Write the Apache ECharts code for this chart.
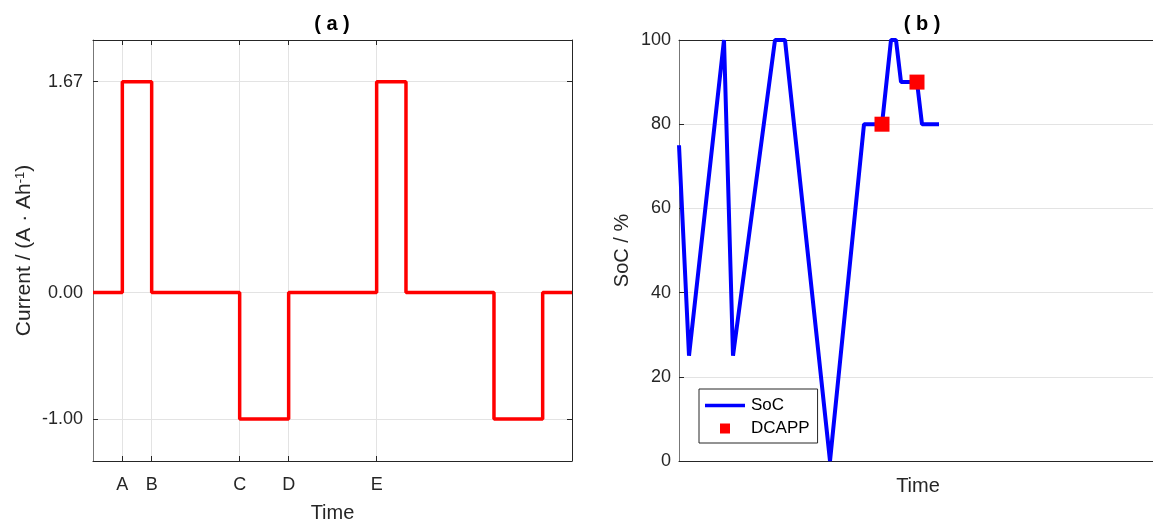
<!DOCTYPE html>
<html>
<head>
<meta charset="utf-8">
<script src="https://cdn.jsdelivr.net/npm/echarts@6/dist/echarts.min.js"></script>
<style>
html,body{margin:0;padding:0;background:#fff;}
#main{width:1153px;height:519px;}
</style>
</head>
<body>
<div id="main"></div>
<script>
// panel (a): current steps, x in time units
var stepTimes = [0, 1, 2, 5, 6.67, 9.67, 10.67, 13.67, 15.33, 16.33];
var stepCurrent = [0, 1.67, 0, -1, 0, 1.67, 0, -1, 0, 0];
var tickPos = [1, 2, 5, 6.67, 9.67];
var tickNames = ['A', 'B', 'C', 'D', 'E'];
var currentTicks = [-1, 0, 1.67];

// panel (b): SoC trace and DCAPP points
var socTime = [0, 10, 45, 54, 96, 106, 151, 185, 203, 212, 217, 222, 238, 243, 260];
var socVal = [75, 25, 100, 25, 100, 100, 0, 80, 80, 100, 100, 90, 90, 80, 80];
var dcTime = [203, 238];
var dcVal = [80, 90];

var FONT = 'Liberation Sans';
var DARK = '#262626';

function zip(a, b){
	var out = [];
	for (var i = 0; i < a.length; i++) out.push([a[i], b[i]]);
	return out;
}

var labelMap = {};
tickPos.forEach(function(p, i){ labelMap[p] = tickNames[i]; });

var option = {
	animation: false,
	backgroundColor: '#fff',
	textStyle: { fontFamily: FONT },
	title: [
		{ text: '( a )', left: 327, top: 9, textAlign: 'center',
		  textStyle: { fontFamily: FONT, fontSize: 20, fontWeight: 'bold', color: '#000' } },
		{ text: '( b )', left: 917, top: 9, textAlign: 'center',
		  textStyle: { fontFamily: FONT, fontSize: 20, fontWeight: 'bold', color: '#000' } }
	],
	legend: {
		left: 699, top: 389,
		orient: 'vertical',
		itemWidth: 40, itemHeight: 10, itemGap: 6,
		padding: [8, 8, 6, 6],
		borderColor: DARK, borderWidth: 1,
		backgroundColor: '#fff',
		symbolKeepAspect: true,
		textStyle: { fontFamily: FONT, fontSize: 17, color: '#000', padding: [0, 0, 0, 1] },
		data: [
			{ name: 'SoC', icon: 'path://M0,0L40,0L40,3.5L0,3.5Z' },
			{ name: 'DCAPP', icon: 'path://M0,0L1,0L1,1L0,1Z' }
		]
	},
	grid: [
		{ left: 93, top: 40, width: 479, height: 421, outerBoundsMode: 'none' },
		{ left: 679, top: 40, width: 478, height: 421, outerBoundsMode: 'none' }
	],
	xAxis: [
		{ gridIndex: 0, type: 'value', min: 0, max: 16.33, position: 'bottom',
		  name: 'Time', nameLocation: 'middle', nameGap: 42,
		  nameTextStyle: { fontFamily: FONT, fontSize: 20, color: DARK },
		  axisLine: { onZero: false, lineStyle: { color: DARK } },
		  axisTick: { inside: true, length: 5, customValues: tickPos, lineStyle: { color: DARK } },
		  axisLabel: { customValues: tickPos, margin: 15, fontSize: 18, color: DARK,
		    formatter: function(v){ return labelMap[v] || ''; } },
		  splitLine: { show: true, lineStyle: { color: '#e3e3e3' } } },
		{ gridIndex: 0, type: 'value', min: 0, max: 16.33, position: 'top',
		  axisLine: { onZero: false, lineStyle: { color: DARK } },
		  axisTick: { inside: true, length: 5, customValues: tickPos, lineStyle: { color: DARK } },
		  axisLabel: { show: false }, splitLine: { show: false } },
		{ gridIndex: 1, type: 'value', min: 0, max: 478, position: 'bottom',
		  name: 'Time', nameLocation: 'middle', nameGap: 15,
		  nameTextStyle: { fontFamily: FONT, fontSize: 20, color: DARK },
		  axisLine: { onZero: false, lineStyle: { color: DARK } },
		  axisTick: { show: false }, axisLabel: { show: false }, splitLine: { show: false } },
		{ gridIndex: 1, type: 'value', min: 0, max: 478, position: 'top',
		  axisLine: { onZero: false, lineStyle: { color: DARK } },
		  axisTick: { show: false }, axisLabel: { show: false }, splitLine: { show: false } }
	],
	yAxis: [
		{ gridIndex: 0, type: 'value', min: -1.3333, max: 2, position: 'left',
		  name: 'Current / (A · Ah{sup|-1})', nameLocation: 'middle', nameGap: 58, nameRotate: 90,
		  nameTextStyle: { fontFamily: FONT, fontSize: 21, color: DARK,
		    rich: { sup: { fontFamily: FONT, fontSize: 13, color: DARK, verticalAlign: 'top', padding: [0, 0, 8, 0] } } },
		  axisLine: { onZero: false, lineStyle: { color: '#777' } },
		  axisTick: { inside: true, length: 5, customValues: currentTicks, lineStyle: { color: DARK } },
		  axisLabel: { customValues: currentTicks, margin: 10, fontSize: 18, color: DARK,
		    formatter: function(v){ return v.toFixed(2); } },
		  splitLine: { show: true, lineStyle: { color: '#e3e3e3' } } },
		{ gridIndex: 0, type: 'value', min: -1.3333, max: 2, position: 'right',
		  axisLine: { show: true, onZero: false, lineStyle: { color: DARK } },
		  axisTick: { inside: true, length: 5, customValues: currentTicks, lineStyle: { color: DARK } },
		  axisLabel: { show: false }, splitLine: { show: false } },
		{ gridIndex: 1, type: 'value', min: 0, max: 100, interval: 20, position: 'left',
		  name: 'SoC / %', nameLocation: 'middle', nameGap: 47,
		  nameTextStyle: { fontFamily: FONT, fontSize: 20, color: DARK },
		  axisLine: { show: true, onZero: false, lineStyle: { color: '#777' } },
		  axisTick: { show: true, inside: true, length: 5, lineStyle: { color: DARK } },
		  axisLabel: { margin: 8, fontSize: 18, color: DARK },
		  splitLine: { show: true, lineStyle: { color: '#e3e3e3' } } }
	],
	series: [
		{ name: 'Current', type: 'line', xAxisIndex: 0, yAxisIndex: 0,
		  step: 'end', showSymbol: false, symbol: 'none',
		  lineStyle: { color: '#ff0000', width: 3.5 },
		  data: zip(stepTimes, stepCurrent), z: 5 },
		{ name: 'SoC', type: 'line', xAxisIndex: 2, yAxisIndex: 2,
		  showSymbol: false, symbol: 'none',
		  itemStyle: { color: '#0000ff' },
		  lineStyle: { color: '#0000ff', width: 4 },
		  data: zip(socTime, socVal), z: 5 },
		{ name: 'DCAPP', type: 'scatter', xAxisIndex: 2, yAxisIndex: 2,
		  symbol: 'rect', symbolSize: 15,
		  itemStyle: { color: '#ff0000', opacity: 1 },
		  data: zip(dcTime, dcVal), z: 6 }
	]
};

var myChart = echarts.init(document.getElementById('main'));
myChart.setOption(option);
</script>
</body>
</html>
